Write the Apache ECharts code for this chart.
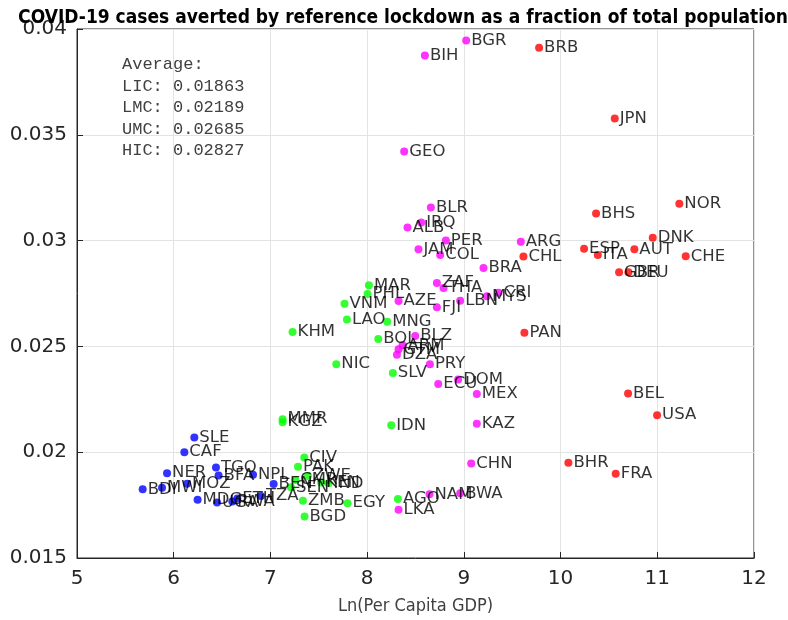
<!DOCTYPE html>
<html>
<head>
<meta charset="utf-8">
<script src="https://cdn.jsdelivr.net/npm/echarts@6/dist/echarts.min.js"></script>
<style>
html,body{margin:0;padding:0;background:#fff;}
#chart{width:788px;height:620px;}
</style>
</head>
<body>
<div id="chart"></div>
<script>
// Low income countries (blue)
var licNames = ["SLE","CAF","NER","TGO","BFA","NPL","BEN","BDI","MWI","MOZ","MDG","UGA","RWA","ETH","TZA"];
var licX = [6.213,6.110,5.931,6.437,6.464,6.820,7.033,5.679,5.879,6.138,6.247,6.448,6.606,6.658,6.902];
var licY = [0.02069,0.02000,0.01901,0.01928,0.01890,0.01893,0.01850,0.01825,0.01832,0.01851,0.01775,0.01762,0.01767,0.01781,0.01793];

// Lower-middle income countries (green)
var lmcNames = ["MMR","KGZ","CIV","PAK","ZWE","CMR","SEN","KEN","IND","ZMB","EGY","BGD","IDN","AGO","SLV","NIC","KHM","LAO","VNM","PHL","MAR","MNG","BOL"];
var lmcX = [7.126,7.126,7.350,7.285,7.388,7.257,7.212,7.525,7.601,7.336,7.797,7.353,8.249,8.318,8.266,7.681,7.229,7.791,7.766,8.004,8.018,8.208,8.115];
var lmcY = [0.02156,0.02142,0.01975,0.01931,0.01887,0.01869,0.01834,0.01857,0.01853,0.01771,0.01759,0.01696,0.02127,0.01779,0.02374,0.02416,0.02568,0.02627,0.02701,0.02748,0.02789,0.02616,0.02535];

// Upper-middle income countries (magenta)
var umcNames = ["BGR","BIH","GEO","BLR","IRQ","ALB","PER","JAM","COL","ARG","BRA","ZAF","THA","AZE","FJI","LBN","MYS","CRI","BLZ","ARM","GTM","DZA","PRY","ECU","DOM","MEX","KAZ","CHN","LKA","NAM","BWA"];
var umcX = [9.024,8.597,8.383,8.659,8.559,8.417,8.814,8.531,8.755,9.589,9.203,8.721,8.790,8.325,8.721,8.962,9.238,9.358,8.497,8.366,8.325,8.308,8.649,8.735,8.941,9.134,9.134,9.076,8.325,8.645,8.962];
var umcY = [0.03946,0.03875,0.03421,0.03156,0.03085,0.03062,0.03000,0.02959,0.02932,0.02995,0.02870,0.02800,0.02776,0.02714,0.02685,0.02716,0.02737,0.02753,0.02549,0.02505,0.02486,0.02460,0.02416,0.02322,0.02343,0.02275,0.02134,0.01947,0.01728,0.01801,0.01806];

// High income countries (red)
var hicNames = ["BRB","JPN","NOR","BHS","DNK","ESP","ITA","AUT","CHE","GBR","DEU","CHL","PAN","BEL","USA","BHR","FRA"];
var hicX = [9.778,10.560,11.228,10.367,10.953,10.243,10.385,10.763,11.294,10.605,10.701,9.616,9.626,10.698,10.998,10.081,10.570];
var hicY = [0.03911,0.03577,0.03174,0.03128,0.03014,0.02962,0.02932,0.02959,0.02926,0.02850,0.02850,0.02925,0.02565,0.02278,0.02175,0.01950,0.01898];

var avgLines = ["Average:","LIC: 0.01863","LMC: 0.02189","UMC: 0.02685","HIC: 0.02827"];

var xTicks = [5,6,7,8,9,10,11,12];
var yTicks = [0.015,0.02,0.025,0.03,0.035,0.04];

function build(names, xs, ys){
  return names.map(function(n,i){ return {name:n, value:[xs[i], ys[i]]}; });
}
function mkSeries(names, xs, ys, color){
  return {
    type:'scatter',
    data: build(names, xs, ys),
    symbol:'circle',
    symbolSize:8,
    itemStyle:{color:color},
    label:{
      show:true, position:'right', distance:1,
      formatter:'{b}', color:'#000',
      fontFamily:'DejaVu Sans', fontSize:16.5
    },
    emphasis:{disabled:true},
    animation:false
  };
}

var chart = echarts.init(document.getElementById('chart'), null, {renderer:'canvas'});
chart.setOption({
  backgroundColor:'#fff',
  animation:false,
  title:{
    text:'COVID-19 cases averted by reference lockdown as a fraction of total population',
    left:398, top:4, textAlign:'center',
    textStyle:{fontFamily:'DejaVu Sans Condensed', fontWeight:'bold', fontSize:19, color:'#000'}
  },
  grid:{left:77, right:34, top:29, bottom:58, show:true, borderColor:'#262626', borderWidth:1, backgroundColor:'#fff'},
  xAxis:{
    type:'value', min:xTicks[0], max:xTicks[xTicks.length-1], interval:1,
    name:'Ln(Per Capita GDP)', nameLocation:'middle', nameGap:39,
    nameTextStyle:{fontFamily:'DejaVu Sans Condensed', fontSize:18, color:'#404040'},
    axisLine:{show:true, lineStyle:{color:'#262626'}},
    axisTick:{show:true, inside:true, length:6, lineStyle:{color:'#262626'}},
    axisLabel:{fontFamily:'DejaVu Sans', fontSize:20, color:'#262626', margin:11},
    splitLine:{show:true, lineStyle:{color:'#e3e3e3', width:1}}
  },
  yAxis:{
    type:'value', min:yTicks[0], max:yTicks[yTicks.length-1], interval:0.005,
    axisLine:{show:true, lineStyle:{color:'#262626'}},
    axisTick:{show:true, inside:true, length:6, lineStyle:{color:'#262626'}},
    axisLabel:{fontFamily:'DejaVu Sans', fontSize:20, color:'#262626', margin:10,
      formatter:function(v){ return String(+v.toFixed(3)); }},
    splitLine:{show:true, lineStyle:{color:'#e3e3e3', width:1}}
  },
  graphic:[{
    type:'text', left:122, top:54,
    style:{
      text: avgLines.join('\n'),
      font:'17px "Liberation Mono"',
      lineHeight:21.5,
      fill:'#404040'
    }
  }],
  series:[
    mkSeries(licNames, licX, licY, '#0000ff'),
    mkSeries(lmcNames, lmcX, lmcY, '#00ff00'),
    mkSeries(umcNames, umcX, umcY, '#ff00ff'),
    mkSeries(hicNames, hicX, hicY, '#ff0000')
  ]
});
</script>
</body>
</html>
